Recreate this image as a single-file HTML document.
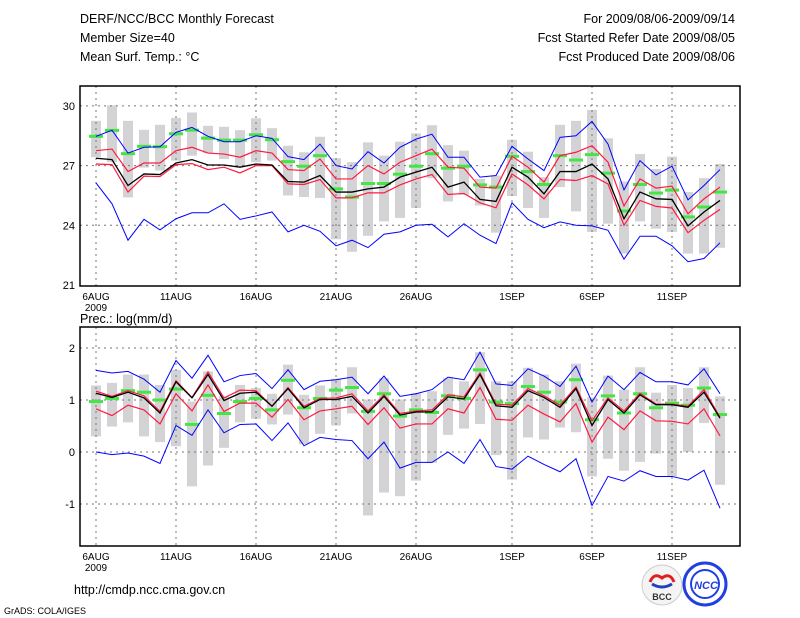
<!DOCTYPE html>
<html><head><meta charset="utf-8"><style>
body{margin:0;background:#fff;width:800px;height:618px;overflow:hidden}
svg{display:block;font-family:"Liberation Sans",sans-serif}
</style></head><body>
<svg id="c" width="800" height="618" xmlns="http://www.w3.org/2000/svg">
<text x="80" y="23" font-size="12.5">DERF/NCC/BCC Monthly Forecast</text>
<text x="80" y="42" font-size="12.5">Member Size=40</text>
<text x="80" y="61" font-size="12.5">Mean Surf. Temp.: °C</text>
<text x="735" y="23" font-size="12.5" text-anchor="end">For 2009/08/06-2009/09/14</text>
<text x="735" y="42" font-size="12.5" text-anchor="end">Fcst Started Refer Date 2009/08/05</text>
<text x="735" y="61" font-size="12.5" text-anchor="end">Fcst Produced Date 2009/08/06</text>
<text x="80" y="323" font-size="12.5">Prec.: log(mm/d)</text>
<text x="74" y="594" font-size="12.5">http://cmdp.ncc.cma.gov.cn</text>
<text x="4" y="614" font-size="9">GrADS: COLA/IGES</text>
<g>
<circle cx="662" cy="585" r="20" fill="#f4f4f4" stroke="#ccc"/>
<path d="M650 582 q4 -10 12 -4 q8 -6 12 4" fill="none" stroke="#e02020" stroke-width="3"/>
<path d="M652 584 q10 6 20 0" fill="none" stroke="#2040c0" stroke-width="3"/>
<text x="662" y="600" font-size="9" font-weight="bold" text-anchor="middle" fill="#333">BCC</text>
</g>
<g>
<circle cx="705" cy="584" r="21" fill="#fff" stroke="#2040e0" stroke-width="3"/>
<circle cx="705" cy="584" r="14" fill="none" stroke="#2040e0" stroke-width="2"/>
<text x="706" y="589" font-size="11" font-style="italic" font-weight="bold" text-anchor="middle" fill="#2040e0">NCC</text>
</g>
</svg>
<script>
const days=["6AUG","11AUG","16AUG","21AUG","26AUG","1SEP","6SEP","11SEP"];
const dayIdx=[0,5,10,15,20,26,31,36];
const tTicks=[21,24,27,30];
const pTicks=[-1,0,1,2];
const tBlueUp=[28.47,28.78,27.63,27.92,27.95,28.67,28.92,28.47,28.2,28.2,28.5,28.37,27.45,27.3,28.08,27.0,26.83,27.7,27.13,27.92,28.33,28.58,27.42,27.42,26.42,26.5,27.97,27.33,26.75,28.42,28.5,29.22,28.08,25.78,27.25,26.53,26.97,25.28,26.0,26.8];
const tRedUp=[27.75,27.83,26.7,27.13,27.13,27.75,27.92,27.63,27.58,27.42,27.75,27.63,26.8,26.75,27.33,26.33,26.33,27.0,26.58,27.17,27.5,27.83,26.92,26.87,25.92,25.87,27.47,26.92,26.17,27.5,27.67,28.0,27.17,24.97,26.33,25.87,25.97,24.58,25.33,25.92];
const tMean=[27.37,27.3,26.0,26.58,26.55,27.13,27.3,27.03,27.03,26.92,27.08,27.03,26.2,26.17,26.5,25.67,25.67,25.83,25.92,26.42,26.67,26.92,25.92,26.17,25.3,25.2,26.92,26.42,25.58,26.7,26.7,27.08,26.33,24.33,25.67,25.33,25.3,23.97,24.67,25.25];
const tRedLo=[27.08,27.05,25.67,26.47,26.45,27.05,27.1,26.8,26.92,26.63,27.0,27.0,26.08,26.05,26.3,25.38,25.38,25.63,25.63,26.03,26.33,26.55,25.55,25.6,25.13,24.88,26.58,26.03,25.33,26.3,26.25,26.5,26.08,24.0,25.25,24.95,24.87,23.63,24.25,24.8];
const tBlueLo=[26.13,25.08,23.25,24.3,23.77,24.33,24.63,24.63,25.08,24.3,24.47,24.67,23.67,24.0,23.7,22.97,23.25,22.88,23.55,23.67,24.0,24.05,23.42,24.08,23.5,23.08,25.13,24.3,23.88,24.17,24.0,23.97,23.75,22.3,23.45,23.45,22.97,22.17,22.33,23.12];
const tGreen=[28.47,28.77,27.6,27.97,27.95,28.6,28.78,28.38,28.28,28.28,28.55,28.3,27.2,26.97,27.5,25.83,25.42,26.1,26.1,26.57,26.97,27.6,26.87,26.97,26.03,25.92,27.47,26.7,26.05,27.5,27.28,27.55,26.62,24.72,26.05,25.62,25.77,24.42,24.92,25.67];
const tBarHi=[29.25,30.03,29.25,28.8,29.05,29.4,29.67,29.0,28.95,28.78,29.38,28.88,28.0,27.67,28.45,27.37,27.17,28.17,27.5,28.2,28.62,29.03,28.03,27.75,26.33,26.5,28.3,27.7,26.42,29.05,29.25,29.8,28.37,26.2,27.58,26.83,27.45,25.67,26.37,27.08];
const tBarLo=[27.42,27.17,25.4,26.9,26.75,27.25,27.5,27.63,27.33,26.92,27.17,27.25,25.5,25.42,25.37,23.3,22.67,23.47,24.2,24.37,24.87,26.37,25.2,25.53,25.0,23.63,25.47,24.87,24.37,25.92,24.7,23.67,24.08,22.58,24.2,23.83,23.67,22.58,22.58,22.87];
const pBlueUp=[1.57,1.52,1.55,1.40,1.15,1.76,1.42,1.86,1.35,1.47,1.51,1.22,1.58,1.2,1.36,1.39,1.44,1.12,1.46,1.07,1.12,1.2,1.44,1.39,1.92,1.31,1.28,1.60,1.46,1.26,1.65,0.96,1.46,1.20,1.53,1.35,1.35,1.29,1.60,1.12];
const pRedUp=[1.17,1.07,1.18,1.08,0.78,1.37,1.05,1.54,1.04,1.19,1.18,0.88,1.24,0.88,1.03,1.04,1.12,0.79,1.10,0.74,0.79,0.81,1.10,1.06,1.52,0.92,0.90,1.22,1.08,0.90,1.25,0.60,1.04,0.79,1.13,0.92,0.92,0.88,1.20,0.67];
const pMean=[1.13,1.05,1.15,1.04,0.75,1.35,1.04,1.49,0.99,1.13,1.15,0.88,1.22,0.85,1.01,1.01,1.07,0.75,1.07,0.71,0.77,0.77,1.06,1.02,1.49,0.89,0.86,1.18,1.05,0.86,1.22,0.51,1.01,0.75,1.10,0.91,0.91,0.86,1.15,0.65];
const pRedLo=[0.83,0.70,0.9,0.81,0.54,1.12,0.79,1.29,0.78,0.94,0.94,0.67,1.01,0.62,0.79,0.83,0.88,0.53,0.85,0.46,0.54,0.54,0.83,0.75,1.24,0.63,0.61,0.9,0.73,0.58,0.93,0.19,0.67,0.43,0.79,0.60,0.59,0.54,0.83,0.31];
const pBlueLo=[0,-0.05,-0.02,-0.08,-0.22,0.51,0.32,0.81,0.37,0.53,0.54,0.22,0.56,0.12,0.28,0.24,0.22,-0.13,0.19,-0.31,-0.20,-0.20,0,-0.22,0.24,-0.28,-0.33,-0.08,-0.24,-0.38,-0.13,-1.03,-0.47,-0.56,-0.36,-0.47,-0.47,-0.54,-0.35,-1.08];
const pGreen=[0.97,1.03,1.18,1.15,1.0,1.21,0.53,1.09,0.74,0.97,1.03,0.81,1.38,0.85,1.03,1.19,1.24,0.78,1.12,0.69,0.81,0.76,1.08,1.03,1.58,0.96,0.93,1.26,1.15,0.96,1.39,0.62,1.08,0.75,1.12,0.85,0.94,0.90,1.23,0.72];
const pBarHi=[1.28,1.33,1.49,1.49,1.29,1.58,0.97,1.55,1.07,1.29,1.23,1.12,1.68,1.10,1.28,1.41,1.63,1.01,1.42,1.01,1.13,1.17,1.42,1.36,1.92,1.36,1.36,1.62,1.49,1.36,1.70,1.05,1.47,1.2,1.63,1.14,1.29,1.23,1.63,1.07];
const pBarLo=[0.30,0.49,0.57,0.30,0.19,0.11,-0.66,-0.26,0.08,0.57,0.64,0.53,0.72,0.15,0.35,0.51,0.74,-1.22,-0.78,-0.85,-0.55,-0.21,0.33,0.45,0.54,-0.06,-0.53,0.28,0.24,0.47,0.38,-0.47,-0.13,-0.36,-0.19,-0.03,-0.47,0,0.56,-0.63];

const NS="http://www.w3.org/2000/svg";
const svg=document.getElementById('c');
const X=i=>96+16*i;
function mk(tag,at,parent){const e=document.createElementNS(NS,tag);for(const k in at)e.setAttribute(k,at[k]);(parent||svg).appendChild(e);return e;}

function panel(pre,top,bot,vmin,vmax,ticks,barHi,barLo,green,blueUp,redUp,mean,redLo,blueLo,ttl){
  const Y=v=>bot-(v-vmin)/(vmax-vmin)*(bot-top-(pre==='t'?0:0));
  const g=mk('g',{});
  
  
  const fr=mk('rect',{x:80,y:top-20*(pre==='t'?1:0)-(pre==='t'?0:20),width:660,height:0,fill:'none'},g);
  // bars
  for(let i=0;i<barHi.length;i++){
    const b=mk('rect',{x:X(i)-5,y:Y(barHi[i]),width:10,height:Y(barLo[i])-Y(barHi[i]),fill:'#d3d3d6'},g);
    
    
  }
  // grid
  for(const d of dayIdx){const l=mk('line',{x1:X(d),x2:X(d),y1:pre==='t'?86:327,y2:pre==='t'?286:546,stroke:'#777','stroke-dasharray':'2,4'},g);
    
    }
  ticks.forEach(t=>{const y=Y(t);
    if(y>(pre==='t'?88:329)&&y<(pre==='t'?284:544)){const l=mk('line',{x1:80,x2:740,y1:y,y2:y,stroke:'#777','stroke-dasharray':'2,4'},g);
      
      }
    const tx=mk('text',{x:75,y:y+4,'font-size':11,'text-anchor':'end'},g);tx.textContent=t;
    
    
  });
  green.forEach((v,i)=>{const r=mk('rect',{x:X(i)-7,y:Y(v)-1.5,width:14,height:3,fill:'#44e644'},g);
    
    });
  const line=(arr,col,w,nm)=>{const p=mk('polyline',{points:arr.map((v,i)=>X(i)+','+Y(v)).join(' '),fill:'none',stroke:col,'stroke-width':w},g);
    
    };
  line(blueUp,'#0000ff',1,'max-line');line(blueLo,'#0000ff',1,'min-line');
  line(redUp,'#ff1a40',1.2,'upper-red-line');line(redLo,'#ff1a40',1.2,'lower-red-line');
  line(mean,'#000',1.3,'ensemble-mean-line');
  const b=mk('rect',{x:80,y:pre==='t'?86:327,width:660,height:pre==='t'?200:219,fill:'none',stroke:'#000','stroke-width':1.5},g);
  
  
  const ly=(pre==='t'?286:546)+14;
  days.forEach((d,k)=>{const t=mk('text',{x:X(dayIdx[k]),y:ly,'font-size':10,'text-anchor':'middle'},g);t.textContent=d;
    
    });
  const yr=mk('text',{x:X(0),y:ly+11,'font-size':10,'text-anchor':'middle'},g);yr.textContent='2009';
  
  
}
panel('t',86,285,21,31,tTicks,tBarHi,tBarLo,tGreen,tBlueUp,tRedUp,tMean,tRedLo,tBlueLo,'temperature');
// precip panel: 1 unit = 52px, 0 at y=452
(function(){
  panel('p',348-52*0+0,452+52*1,-1,2,pTicks,pBarHi,pBarLo,pGreen,pBlueUp,pRedUp,pMean,pRedLo,pBlueLo,'precipitation');
})();
</script>
</body></html>
